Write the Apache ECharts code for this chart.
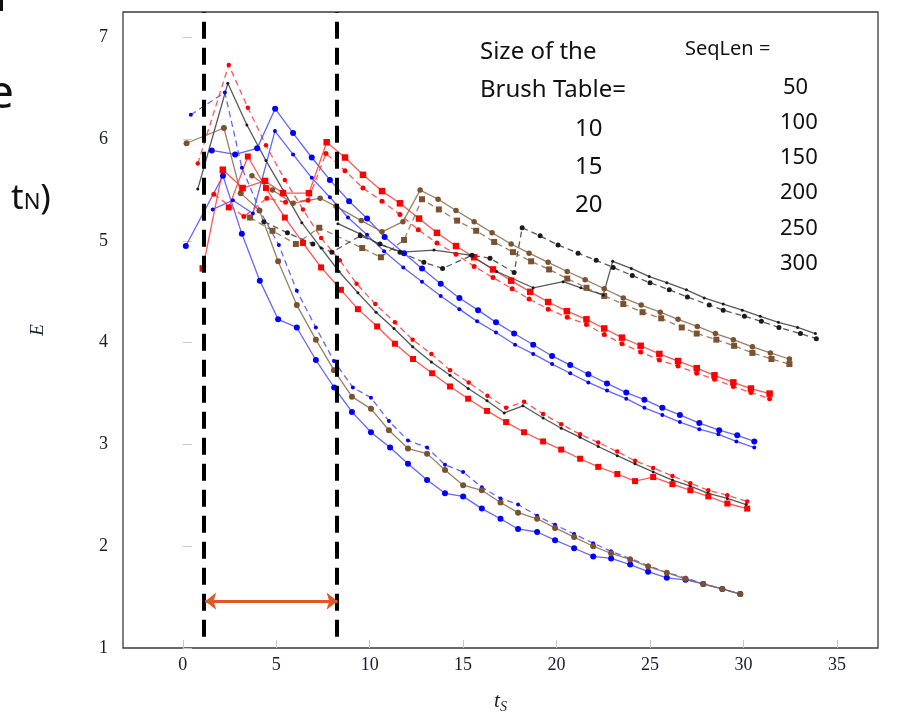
<!DOCTYPE html>
<html><head><meta charset="utf-8">
<script src="https://cdn.jsdelivr.net/npm/echarts@6/dist/echarts.min.js"></script>
<style>html,body{margin:0;padding:0;background:#fff}#c{width:897px;height:721px}</style>
</head><body><div id="c"></div>
<script>
// ---- tick labels ----
const xTicks = [0, 5, 10, 15, 20, 25, 30, 35];
const yTicks = [1, 2, 3, 4, 5, 6, 7];

// ---- series values (t_S, E) ----
const a1X = [0.16,2.15,3.16,4.12,5.1,6.1,7.12,8.1,9.05,10.07,11.09,12.05,13.07,14.03,15.0,16.0,17.0,17.94,18.96,19.92,20.94,21.96,22.92,23.94,24.9,25.9,26.9,27.85,28.87,29.83];
const a1Y = [4.95,5.64,5.07,4.61,4.23,4.15,3.83,3.56,3.32,3.12,2.97,2.81,2.65,2.52,2.49,2.37,2.27,2.17,2.14,2.06,1.98,1.90,1.88,1.82,1.75,1.69,1.67,1.63,1.58,1.53];
const a2X = [0.43,2.25,3.16,4.12,5.14,6.1,7.12,8.09,9.1,10.07,11.03,12.05,13.07,14.03,15.0,16.0,17.0,17.94,18.96,19.92,20.94,21.96,22.92,23.94,24.9,25.9,26.9,27.85,28.87,29.83];
const a2Y = [6.24,6.46,5.72,5.30,4.96,4.51,4.15,3.82,3.56,3.46,3.23,3.04,2.97,2.80,2.73,2.58,2.47,2.41,2.30,2.21,2.12,2.03,1.95,1.88,1.81,1.74,1.69,1.63,1.58,1.53];
const a3X = [0.2,2.2,3.1,4.1,5.1,6.1,7.12,8.09,9.05,10.07,11.03,12.05,13.07,14.03,15.0,16.0,17.0,17.94,18.96,19.92,20.94,21.96,22.92,23.94,24.9,25.9,26.9,27.85,28.87,29.83];
const a3Y = [5.96,6.11,5.47,5.30,4.80,4.37,4.03,3.73,3.47,3.35,3.14,2.96,2.91,2.75,2.60,2.55,2.43,2.33,2.27,2.18,2.09,2.00,1.93,1.87,1.80,1.74,1.68,1.63,1.58,1.53];

const b1X = [0.8,2.46,3.48,4.45,5.46,6.43,7.4,8.4,9.3,10.3,11.35,12.3,13.3,14.3,15.3,16.3,17.3,18.26,19.28,20.25,21.26,22.23,23.25,24.2,25.17,26.2,27.16,28.12,29.14,30.2];
const b1Y = [5.76,6.73,6.31,5.94,5.60,5.31,5.03,4.81,4.58,4.38,4.20,4.03,3.89,3.73,3.61,3.48,3.36,3.42,3.30,3.20,3.10,3.02,2.93,2.84,2.77,2.69,2.62,2.55,2.50,2.44];
const b2X = [0.8,2.41,3.43,4.45,5.4,6.37,7.4,8.36,9.37,10.34,11.3,12.3,13.3,14.3,15.27,16.28,17.2,18.2,19.28,20.25,21.26,22.23,23.25,24.2,25.17,26.2,27.16,28.12,29.14,30.15];
const b2Y = [5.51,6.55,6.14,5.79,5.49,5.18,4.93,4.70,4.49,4.30,4.14,3.96,3.81,3.68,3.55,3.43,3.31,3.38,3.26,3.16,3.07,2.98,2.89,2.81,2.73,2.65,2.59,2.52,2.47,2.41];
const b3X = [2.46,3.48,4.45,5.46,6.43,7.4,8.46,9.37,10.4,11.35,12.32,13.34,14.3,15.27,16.28,17.3,18.26,19.28,20.25,21.26,22.23,23.25,24.2,25.17,26.2,27.16,28.12,29.14,30.2];
const b3Y = [5.33,5.83,5.52,5.23,4.98,4.74,4.52,4.33,4.16,3.99,3.84,3.70,3.57,3.45,3.33,3.22,3.12,3.03,2.95,2.86,2.78,2.71,2.64,2.68,2.61,2.55,2.49,2.42,2.37];

const c1X = [1.55,2.8,3.98,4.94,5.9,6.9,7.87,8.9,9.86,10.8,11.84,12.8,13.8,14.8,15.8,16.76,17.73,18.75,19.76,20.73,21.7,22.7,23.73,24.7,25.66,26.6,27.64,28.7,29.67,30.58];
const c1Y = [5.89,5.85,5.91,6.30,6.06,5.82,5.60,5.39,5.22,5.04,4.88,4.73,4.58,4.44,4.32,4.20,4.09,3.98,3.87,3.78,3.69,3.60,3.51,3.44,3.36,3.29,3.21,3.14,3.09,3.03];
const c2X = [1.6,2.68,3.75,4.93,5.9,6.9,7.87,8.84,9.86,10.77,11.8,12.8,13.8,14.8,15.75,16.76,17.78,18.75,19.76,20.73,21.7,22.7,23.73,24.7,25.66,26.6,27.64,28.66,29.62,30.58];
const c2Y = [5.31,5.40,5.27,6.08,5.85,5.62,5.43,5.23,5.06,4.90,4.74,4.60,4.46,4.33,4.21,4.10,3.98,3.89,3.79,3.70,3.61,3.53,3.45,3.36,3.29,3.22,3.15,3.10,3.03,2.97];

const d1X = [1.07,2.14,3.2,4.4,5.36,6.75,7.7,8.68,9.64,10.66,11.62,12.64,13.6,14.62,15.59,16.6,17.57,18.59,19.55,20.55,21.6,22.55,23.5,24.5,25.5,26.5,27.5,28.45,29.46,30.4,31.4];
const d1Y = [4.73,5.70,5.52,5.59,5.47,5.47,5.97,5.82,5.65,5.49,5.37,5.22,5.08,4.95,4.84,4.72,4.61,4.50,4.40,4.31,4.23,4.14,4.05,3.97,3.89,3.82,3.75,3.68,3.61,3.55,3.50];
const d2X = [1.66,3.27,4.5,5.5,6.7,7.66,8.68,9.64,10.66,11.62,12.6,13.6,14.62,15.59,16.6,17.62,18.53,19.55,20.57,21.6,22.55,23.5,24.5,25.5,26.5,27.5,28.45,29.46,30.4,31.4];
const d2Y = [5.46,5.24,5.42,5.38,5.40,5.86,5.69,5.52,5.39,5.26,5.11,4.98,4.87,4.75,4.64,4.53,4.43,4.33,4.25,4.18,4.08,3.99,3.91,3.83,3.77,3.70,3.64,3.57,3.51,3.45];

const e1X = [3.7,4.8,5.9,7.35,8.2,9.55,10.66,11.78,12.7,13.66,14.62,15.59,16.55,17.57,18.53,19.55,20.57,21.53,22.55,23.57,24.53,25.55,26.5,27.53,28.5,29.46,30.48,31.44,32.46];
const e1Y = [5.64,5.50,5.37,5.42,5.34,5.20,5.09,5.19,5.50,5.41,5.30,5.19,5.08,4.97,4.88,4.79,4.70,4.62,4.53,4.44,4.37,4.30,4.23,4.16,4.09,4.03,3.96,3.90,3.84];
const e2X = [3.6,4.8,6.05,7.3,9.6,10.6,11.84,12.8,13.7,14.68,15.7,16.66,17.67,18.64,19.6,20.57,21.6,22.55,23.57,24.6,25.6,26.7,27.5,28.55,29.5,30.48,31.5,32.46];
const e2Y = [5.23,5.10,4.97,5.13,4.93,4.84,5.01,5.41,5.31,5.20,5.10,4.99,4.89,4.80,4.72,4.63,4.54,4.46,4.38,4.30,4.24,4.15,4.09,4.03,3.97,3.90,3.84,3.79];

const f1X = [4.34,5.6,6.96,7.98,9.5,10.55,11.62,12.9,13.9,15.48,16.44,17.73,18.16,19.12,20.08,21.15,22.12,23.03,24.05,25.0,26.03,27.0,28.17,28.92,30.05,30.96,31.9,33.05,33.9];
const f1Y = [5.19,5.08,4.97,4.89,5.05,4.97,4.89,4.79,4.73,4.86,4.83,4.69,5.13,5.05,4.96,4.88,4.81,4.74,4.66,4.59,4.52,4.45,4.37,4.32,4.26,4.21,4.15,4.09,4.04];
const f2X = [8.3,9.48,10.5,11.73,13.44,15.37,16.8,18.75,20.35,21.3,22.5,23.0,24.0,24.96,25.9,26.95,27.9,28.92,29.94,30.9,31.87,32.9,33.85];
const f2Y = [5.17,5.07,4.97,4.89,4.91,4.86,4.70,4.54,4.60,4.54,4.47,4.80,4.73,4.65,4.59,4.52,4.44,4.38,4.32,4.26,4.20,4.15,4.09];

// annotation values (data coords)
const windowX = [1.12, 8.25];
const windowY = [1.11, 7.25];
const arrowX = [1.2, 8.28];
const arrowY = 1.46;

const brushLabels = ['Size of the', 'Brush Table=', '10', '15', '20'];
const seqLabels = ['SeqLen =', '50', '100', '150', '200', '250', '300'];

// ---- styles ----
const COL = {
  blue: {m: '#0000ff', l: '#4a4aff'},
  red: {m: '#ff0000', l: '#ff3a3a'},
  brown: {m: '#7a5230', l: '#8a6a4e'},
  black: {m: '#1a1a1a', l: '#3c3c3c'}
};
const defs = [
  {x: a1X, y: a1Y, c: 'blue', dash: false, sym: 'circle', s: 6},
  {x: a2X, y: a2Y, c: 'blue', dash: true, sym: 'circle', s: 4},
  {x: a3X, y: a3Y, c: 'brown', dash: false, sym: 'circle', s: 6},
  {x: b1X, y: b1Y, c: 'red', dash: true, sym: 'circle', s: 4.5},
  {x: b2X, y: b2Y, c: 'black', dash: false, sym: 'circle', s: 3},
  {x: b3X, y: b3Y, c: 'red', dash: false, sym: 'rect', s: 6},
  {x: c1X, y: c1Y, c: 'blue', dash: false, sym: 'circle', s: 6},
  {x: c2X, y: c2Y, c: 'blue', dash: false, sym: 'circle', s: 4},
  {x: d1X, y: d1Y, c: 'red', dash: false, sym: 'rect', s: 6.5},
  {x: d2X, y: d2Y, c: 'red', dash: true, sym: 'circle', s: 5},
  {x: e1X, y: e1Y, c: 'brown', dash: false, sym: 'circle', s: 5.5},
  {x: e2X, y: e2Y, c: 'brown', dash: true, sym: 'rect', s: 6},
  {x: f1X, y: f1Y, c: 'black', dash: true, sym: 'circle', s: 5},
  {x: f2X, y: f2Y, c: 'black', dash: false, sym: 'circle', s: 3}
];

const series = defs.map((d, i) => ({
  type: 'line',
  data: d.x.map((v, k) => [v, d.y[k]]),
  symbol: d.sym,
  symbolSize: d.s,
  itemStyle: {color: COL[d.c].m},
  lineStyle: {color: COL[d.c].l, width: 1.3, type: d.dash ? [6, 4] : 'solid', opacity: 0.85},
  emphasis: {disabled: true},
  silent: true,
  z: 2
}));

const dashStyle = {color: '#000', width: 4, type: [17, 9]};
series.push({
  type: 'line',
  data: [],
  silent: true,
  z: 5,
  markLine: {
    silent: true,
    animation: false,
    symbol: 'none',
    label: {show: false},
    emphasis: {disabled: true},
    lineStyle: dashStyle,
    data: [
      [{coord: [windowX[0], windowY[0]]}, {coord: [windowX[0], windowY[1]]}],
      [{coord: [windowX[1], windowY[0]]}, {coord: [windowX[1], windowY[1]]}]
    ]
  }
});
series.push({
  type: 'line',
  data: [],
  silent: true,
  z: 5,
  markLine: {
    silent: true,
    animation: false,
    label: {show: false},
    emphasis: {disabled: true},
    symbol: ['arrow', 'arrow'],
    symbolSize: [13, 11],
    lineStyle: {color: '#e0572a', width: 3, type: 'solid'},
    itemStyle: {color: '#e0572a'},
    data: [[{coord: [arrowX[0], arrowY]}, {coord: [arrowX[1], arrowY]}]]
  }
});

const SERIF = '"Liberation Serif", "DejaVu Serif", serif';
const SANS = '"Noto Sans", "Open Sans", sans-serif';

const graphic = [];
const brushY = [50, 88, 127, 165, 203];
const brushXpos = [480, 480, 575, 575, 575];
brushLabels.forEach((t, i) => graphic.push({type: 'text', left: brushXpos[i], top: brushY[i] - 10, silent: true,
  style: {text: t, font: '24px ' + SANS, fill: '#111'}}));
const seqY = [47, 85, 120, 155, 190, 226, 261];
const seqXpos = [685, 783, 780, 780, 780, 780, 780];
seqLabels.forEach((t, i) => graphic.push({type: 'text', left: seqXpos[i], top: seqY[i] - 8, silent: true,
  style: {text: t, font: (i === 0 ? '20px ' : '22px ') + SANS, fill: '#111'}}));
// cropped slide text on the left edge
graphic.push({type: 'text', left: -12, top: 72, silent: true, style: {text: 'e', font: '46px ' + SANS, fill: '#111'}});
graphic.push({type: 'text', left: 11, top: 182, silent: true, style: {
  text: '{a|t}{b|N}{a|)}', rich: {a: {font: '35px ' + SANS, fill: '#111', verticalAlign: 'bottom'}, b: {font: '22px ' + SANS, fill: '#111', verticalAlign: 'bottom', padding: [0, 0, 3, 0]}}}});
graphic.push({type: 'rect', shape: {x: 0, y: 0, width: 3, height: 11}, style: {fill: '#111'}, silent: true});

const option = {
  animation: false,
  backgroundColor: '#fff',
  grid: {left: 123, right: 19, top: 12, bottom: 73, show: true, borderColor: '#3a3a3a', borderWidth: 1.3, backgroundColor: 'transparent'},
  xAxis: {
    type: 'value', min: -3.2, max: 37.2,
    name: '{t|t}{s|S}', nameLocation: 'middle', nameGap: 40,
    nameTextStyle: {rich: {t: {fontFamily: SERIF, fontStyle: 'italic', fontSize: 21, color: '#1a1a2e'},
      s: {fontFamily: SERIF, fontStyle: 'italic', fontSize: 14, color: '#1a1a2e', padding: [12, 0, 0, 0]}}},
    axisLine: {show: false},
    splitLine: {show: false},
    axisTick: {show: true, inside: true, length: 8, lineStyle: {color: '#c8c8c8', width: 1}, customValues: xTicks},
    axisLabel: {customValues: xTicks, fontFamily: SERIF, fontSize: 18, color: '#1a1a2e', margin: 8}
  },
  yAxis: {
    type: 'value', min: 1, max: 7.25,
    name: 'E', nameLocation: 'middle', nameGap: 76, nameRotate: 90,
    nameTextStyle: {fontFamily: SERIF, fontStyle: 'italic', fontSize: 19, color: '#1a1a2e'},
    axisLine: {show: false},
    splitLine: {show: false},
    axisTick: {show: true, inside: true, length: 9, lineStyle: {color: '#c8c8c8', width: 1}, customValues: yTicks},
    axisLabel: {customValues: yTicks, fontFamily: SERIF, fontSize: 18, color: '#1a1a2e', margin: 15}
  },
  series: series,
  graphic: graphic
};

const chart = echarts.init(document.getElementById('c'), null, {renderer: 'canvas'});
chart.setOption(option);
</script>
</body></html>
